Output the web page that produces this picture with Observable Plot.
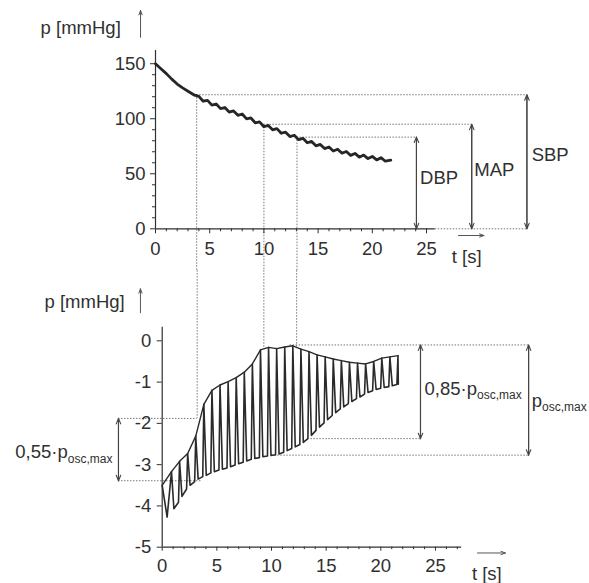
<!DOCTYPE html>
<html>
<head>
<meta charset="utf-8">
<script src="https://cdn.jsdelivr.net/npm/d3@7"></script>
<script src="https://cdn.jsdelivr.net/npm/@observablehq/plot@0.6"></script>
<style>
  html, body { margin: 0; padding: 0; background: #fff; }
  #wrap { position: relative; width: 589px; height: 583px; overflow: hidden; background: #fff; }
  #wrap svg { position: absolute; left: 0; }
</style>
</head>
<body>
<div id="wrap"></div>
<script>
// ---------- DATA ----------
// Top panel: cuff pressure p [mmHg] vs time t [s]
const cuffT = [0, 0.5, 1, 1.5, 2, 2.5, 3, 3.6,
  4.0, 4.4, 4.8, 5.2, 5.6, 6.0, 6.4, 6.8, 7.2, 7.6, 8.0, 8.4, 8.8, 9.2, 9.6, 10.0,
  10.4, 10.8, 11.2, 11.6, 12.0, 12.4, 12.8, 13.2, 13.6, 14.0, 14.4, 14.8, 15.2, 15.6,
  16.0, 16.4, 16.8, 17.2, 17.6, 18.0, 18.4, 18.8, 19.2, 19.6, 20.0, 20.4, 20.8, 21.2, 21.7];
const cuffP = [150, 145.5, 141, 136, 131.5, 128, 125, 121.4,
  120.3, 115.9, 116.7, 112.4, 113.4, 109.2, 110.2, 106.0, 107.1, 103.1, 104.3, 99.9, 100.7, 96.3, 97.1, 92.7,
  93.9, 89.9, 91.0, 86.8, 87.8, 83.8, 85.0, 81.0, 82.2, 78.2, 79.4, 75.4, 76.7, 72.9,
  74.3, 70.7, 72.3, 68.7, 70.3, 66.7, 68.5, 65.1, 67.0, 63.8, 65.8, 62.6, 64.6, 61.4, 62.3];

// Bottom panel: oscillations, each pulse = foot -> peak -> end of downstroke
const startT = [0, 0.45];
const startP = [-3.5, -4.27];
const footT = [0.45, 1.49, 2.23, 2.97, 3.71, 4.45, 5.19, 5.93, 6.67, 7.41, 8.15, 8.89, 9.63, 10.37, 11.11,
  11.85, 12.59, 13.33, 14.07, 14.81, 15.55, 16.29, 17.03, 17.77, 18.51, 19.25, 19.99, 20.73, 21.47];
const footP = [-4.27, -3.91, -3.59, -3.41, -3.29, -3.20, -3.13, -3.08, -3.01, -2.94, -2.87, -2.83, -2.79, -2.76, -2.70,
  -2.61, -2.51, -2.37, -2.17, -1.99, -1.81, -1.65, -1.52, -1.40, -1.29, -1.21, -1.15, -1.11, -1.06];
const peakT = [0.85, 1.59, 2.33, 3.07, 3.81, 4.55, 5.29, 6.03, 6.77, 7.51, 8.25, 8.99, 9.73, 10.47, 11.21,
  11.95, 12.69, 13.43, 14.17, 14.91, 15.65, 16.39, 17.13, 17.87, 18.61, 19.35, 20.09, 20.83, 21.57];
const peakP = [-3.17, -2.92, -2.73, -2.31, -1.54, -1.20, -1.07, -0.99, -0.89, -0.76, -0.56, -0.22, -0.16, -0.19, -0.15,
  -0.12, -0.20, -0.26, -0.34, -0.39, -0.44, -0.48, -0.52, -0.54, -0.56, -0.50, -0.42, -0.39, -0.36];
const endT = [1.07, 1.81, 2.55, 3.29, 4.03, 4.77, 5.51, 6.25, 6.99, 7.73, 8.47, 9.21, 9.95, 10.69, 11.43,
  12.17, 12.91, 13.65, 14.39, 15.13, 15.87, 16.61, 17.35, 18.09, 18.83, 19.57, 20.31, 21.05, 21.60];
const endP = [-4.07, -3.77, -3.50, -3.35, -3.26, -3.17, -3.11, -3.05, -2.98, -2.91, -2.85, -2.81, -2.78, -2.74, -2.66,
  -2.57, -2.46, -2.29, -2.09, -1.91, -1.74, -1.60, -1.47, -1.36, -1.25, -1.18, -1.13, -1.09, -1.05];

// Characteristic pressure levels (top) and amplitude levels (bottom)
const levelNames = ["SBP", "MAP", "DBP"];
const levelP = [121.8, 95, 83.3];
const levelTtop = [3.8, 10.0, 13.05];     // time where level is read (top panel)
const levelTbottom = [3.2, 9.3, 12.3];    // same instants on bottom panel
const levelAmp = [-1.88, -0.18, -0.15];   // where the vertical lines meet the envelope
const posc = { max: -0.1, min: -2.77, l85: -2.37, u55: -1.88, l55: -3.39 };

const topYTicks = [0, 50, 100, 150];
const topYMinor = [10, 20, 30, 40, 60, 70, 80, 90, 110, 120, 130, 140];
const xTicks = [0, 5, 10, 15, 20, 25];
const xMinor = [1, 2, 3, 4, 6, 7, 8, 9, 11, 12, 13, 14, 16, 17, 18, 19, 21, 22, 23, 24, 26, 27];
const botYTicks = [0, -1, -2, -3, -4, -5];

// ---------- STYLE ----------
const FONT = "'Liberation Sans', Arial, sans-serif";
const INK = "#303030";
const DOT = "#777";
const dash = "1.5,1.5";
const FS = 18.5;

function subs(svg) {
  d3.select(svg).selectAll("text").each(function () {
    const t = this.textContent;
    if (t.includes("_")) {
      const [a, b] = t.split("_");
      const sel = d3.select(this);
      sel.selectAll("*").remove();
      sel.text(null);
      sel.append("tspan").text(a);
      sel.append("tspan").attr("font-size", 12).attr("dy", "0.4em").text(b);
    }
  });
  return svg;
}

// ---------- TOP PANEL ----------
const cuff = cuffT.map((t, i) => ({ t, p: cuffP[i] }));
const topLevels = levelNames.map((n, i) => ({ name: n, p: levelP[i], t: levelTtop[i] }));
const arrowT = { DBP: 24.07, MAP: 29.17, SBP: 34.26 };
const labelPos = { DBP: [24.4, 45.7], MAP: [29.4, 53], SBP: [34.7, 66.6] };

const topChart = Plot.plot({
  width: 589, height: 270,
  marginLeft: 155, marginRight: 154.3, marginTop: 50, marginBottom: 41.7,
  x: { domain: [0, 25.8] },
  y: { domain: [0, 162] },
  style: { fontFamily: FONT, fontSize: FS + "px", color: INK, background: "transparent" },
  marks: [
    Plot.ruleY(topLevels, { y: "p", x1: "t", x2: d => arrowT[d.name], stroke: DOT, strokeDasharray: dash }),
    Plot.ruleX(topLevels, { x: "t", y1: "p", y2: -38, stroke: DOT, strokeDasharray: dash }),
    Plot.ruleY([0], { x1: 25.8, x2: arrowT.SBP, stroke: DOT, strokeDasharray: dash }),
    Plot.ruleX([0], { y1: 0, y2: 162, stroke: INK, strokeWidth: 1.2 }),
    Plot.ruleY([0], { x1: 0, x2: 25.8, stroke: INK, strokeWidth: 1.2 }),
    Plot.axisY({ ticks: topYTicks, tickSize: 5, tickPadding: 5, fontSize: FS, label: null, stroke: INK }),
    Plot.axisY({ ticks: topYMinor, tickSize: 3, tickFormat: () => "", label: null, stroke: INK }),
    Plot.axisX({ ticks: xTicks, tickSize: 5, tickPadding: 8, fontSize: FS, label: null, stroke: INK }),
    Plot.axisX({ ticks: xMinor.filter(d => d < 26), tickSize: 3, tickFormat: () => "", label: null, stroke: INK }),
    Plot.arrow(topLevels, { x1: d => arrowT[d.name], x2: d => arrowT[d.name], y1: 0, y2: "p", stroke: "#444", strokeWidth: 1.1, headLength: 8, headAngle: 45 }),
    Plot.arrow(topLevels, { x1: d => arrowT[d.name], x2: d => arrowT[d.name], y1: "p", y2: 0, stroke: "#444", strokeWidth: 1.1, headLength: 8, headAngle: 45 }),
    Plot.text(topLevels, { x: d => labelPos[d.name][0], y: d => labelPos[d.name][1], text: "name", textAnchor: "start", fontSize: FS, fill: INK }),
    Plot.line(cuff, { x: "t", y: "p", stroke: "#262626", strokeWidth: 2.8, curve: "linear" }),
    Plot.text(["p [mmHg]"], { x: -6.9, y: 182, text: d => d, fontSize: FS, fill: INK }),
    Plot.arrow([0], { x1: -1.38, x2: -1.38, y1: 174, y2: 198.4, stroke: "#555", strokeWidth: 1, headLength: 7, headAngle: 40 }),
    Plot.arrow([0], { x1: 27.95, x2: 30.3, y1: -6.1, y2: -6.1, stroke: "#555", strokeWidth: 1, headLength: 7, headAngle: 40 }),
    Plot.text(["t [s]"], { x: 28.7, y: -26, text: d => d, fontSize: FS, fill: INK })
  ]
});
topChart.style.top = "0px";

// ---------- BOTTOM PANEL ----------
const osc = [{ t: startT[0], p: startP[0] }];
footT.forEach((t, i) => {
  osc.push({ t, p: footP[i] });
  osc.push({ t: peakT[i], p: peakP[i] });
  osc.push({ t: endT[i], p: endP[i] });
});
const upper = [{ t: startT[0], p: startP[0] }].concat(peakT.map((t, i) => ({ t, p: peakP[i] })));
const botLevels = levelNames.map((n, i) => ({ t: levelTbottom[i], a: levelAmp[i] }));

const hBot = [
  { y: posc.u55, x1: -4.0, x2: 3.2 },
  { y: posc.l55, x1: -4.0, x2: 3.6 },
  { y: posc.max, x1: 11.7, x2: 33.52 },
  { y: posc.l85, x1: 13.6, x2: 23.63 },
  { y: posc.min, x1: 10.3, x2: 33.52 }
];
const aBot = [
  { x: -4.0, lo: posc.l55, hi: posc.u55 },
  { x: 23.63, lo: posc.l85, hi: posc.max },
  { x: 33.52, lo: posc.min, hi: posc.max }
];
const tBotEnd = [{ x: -4.55, y: -2.70, text: "0,55·p_osc,max" }];
const tBotStart = [
  { x: 24.0, y: -1.16, text: "0,85·p_osc,max" },
  { x: 33.8, y: -1.45, text: "p_osc,max" }
];

const bottomChart = Plot.plot({
  width: 589, height: 313,
  marginLeft: 161.7, marginRight: 127.8, marginTop: 56.7, marginBottom: 36.3,
  x: { domain: [0, 27.4] },
  y: { domain: [-5, 0.33] },
  style: { fontFamily: FONT, fontSize: FS + "px", color: INK, background: "transparent" },
  marks: [
    Plot.ruleY(hBot, { y: "y", x1: "x1", x2: "x2", stroke: DOT, strokeDasharray: dash }),
    Plot.ruleX(botLevels, { x: "t", y1: 1.7, y2: "a", stroke: DOT, strokeDasharray: dash }),
    Plot.ruleX([0], { y1: -5, y2: 0.33, stroke: INK, strokeWidth: 1.2 }),
    Plot.ruleY([-5], { x1: 0, x2: 27.4, stroke: INK, strokeWidth: 1.2 }),
    Plot.axisY({ ticks: botYTicks, tickSize: 5, tickPadding: 6, tickFormat: d => String(d), fontSize: FS, label: null, stroke: INK }),
    Plot.axisX({ ticks: xTicks, tickSize: 4, tickPadding: 7.5, fontSize: FS, label: null, stroke: INK }),
    Plot.axisX({ ticks: xMinor, tickSize: 2.5, tickFormat: () => "", label: null, stroke: INK }),
    Plot.line(osc, { x: "t", y: "p", stroke: "#2a2a2a", strokeWidth: 1.6 }),
    Plot.line(upper, { x: "t", y: "p", stroke: "#2a2a2a", strokeWidth: 1.4 }),
    Plot.arrow(aBot, { x1: "x", x2: "x", y1: "lo", y2: "hi", stroke: "#444", strokeWidth: 1.1, headLength: 8, headAngle: 45 }),
    Plot.arrow(aBot, { x1: "x", x2: "x", y1: "hi", y2: "lo", stroke: "#444", strokeWidth: 1.1, headLength: 8, headAngle: 45 }),
    Plot.text(tBotEnd, { x: "x", y: "y", text: "text", textAnchor: "end", fontSize: FS, fill: INK }),
    Plot.text(tBotStart, { x: "x", y: "y", text: "text", textAnchor: "start", fontSize: FS, fill: INK }),
    Plot.text(["p [mmHg]"], { x: -7.1, y: 0.93, text: d => d, fontSize: FS, fill: INK }),
    Plot.arrow([0], { x1: -1.99, x2: -1.99, y1: 0.68, y2: 1.26, stroke: "#555", strokeWidth: 1, headLength: 7, headAngle: 40 }),
    Plot.arrow([0], { x1: 28.85, x2: 31.4, y1: -5.14, y2: -5.14, stroke: "#555", strokeWidth: 1, headLength: 7, headAngle: 40 }),
    Plot.text(["t [s]"], { x: 29.7, y: -5.64, text: d => d, fontSize: FS, fill: INK })
  ]
});
bottomChart.style.top = "270px";

const wrap = document.getElementById("wrap");
wrap.appendChild(subs(topChart));
wrap.appendChild(subs(bottomChart));
</script>
</body>
</html>
